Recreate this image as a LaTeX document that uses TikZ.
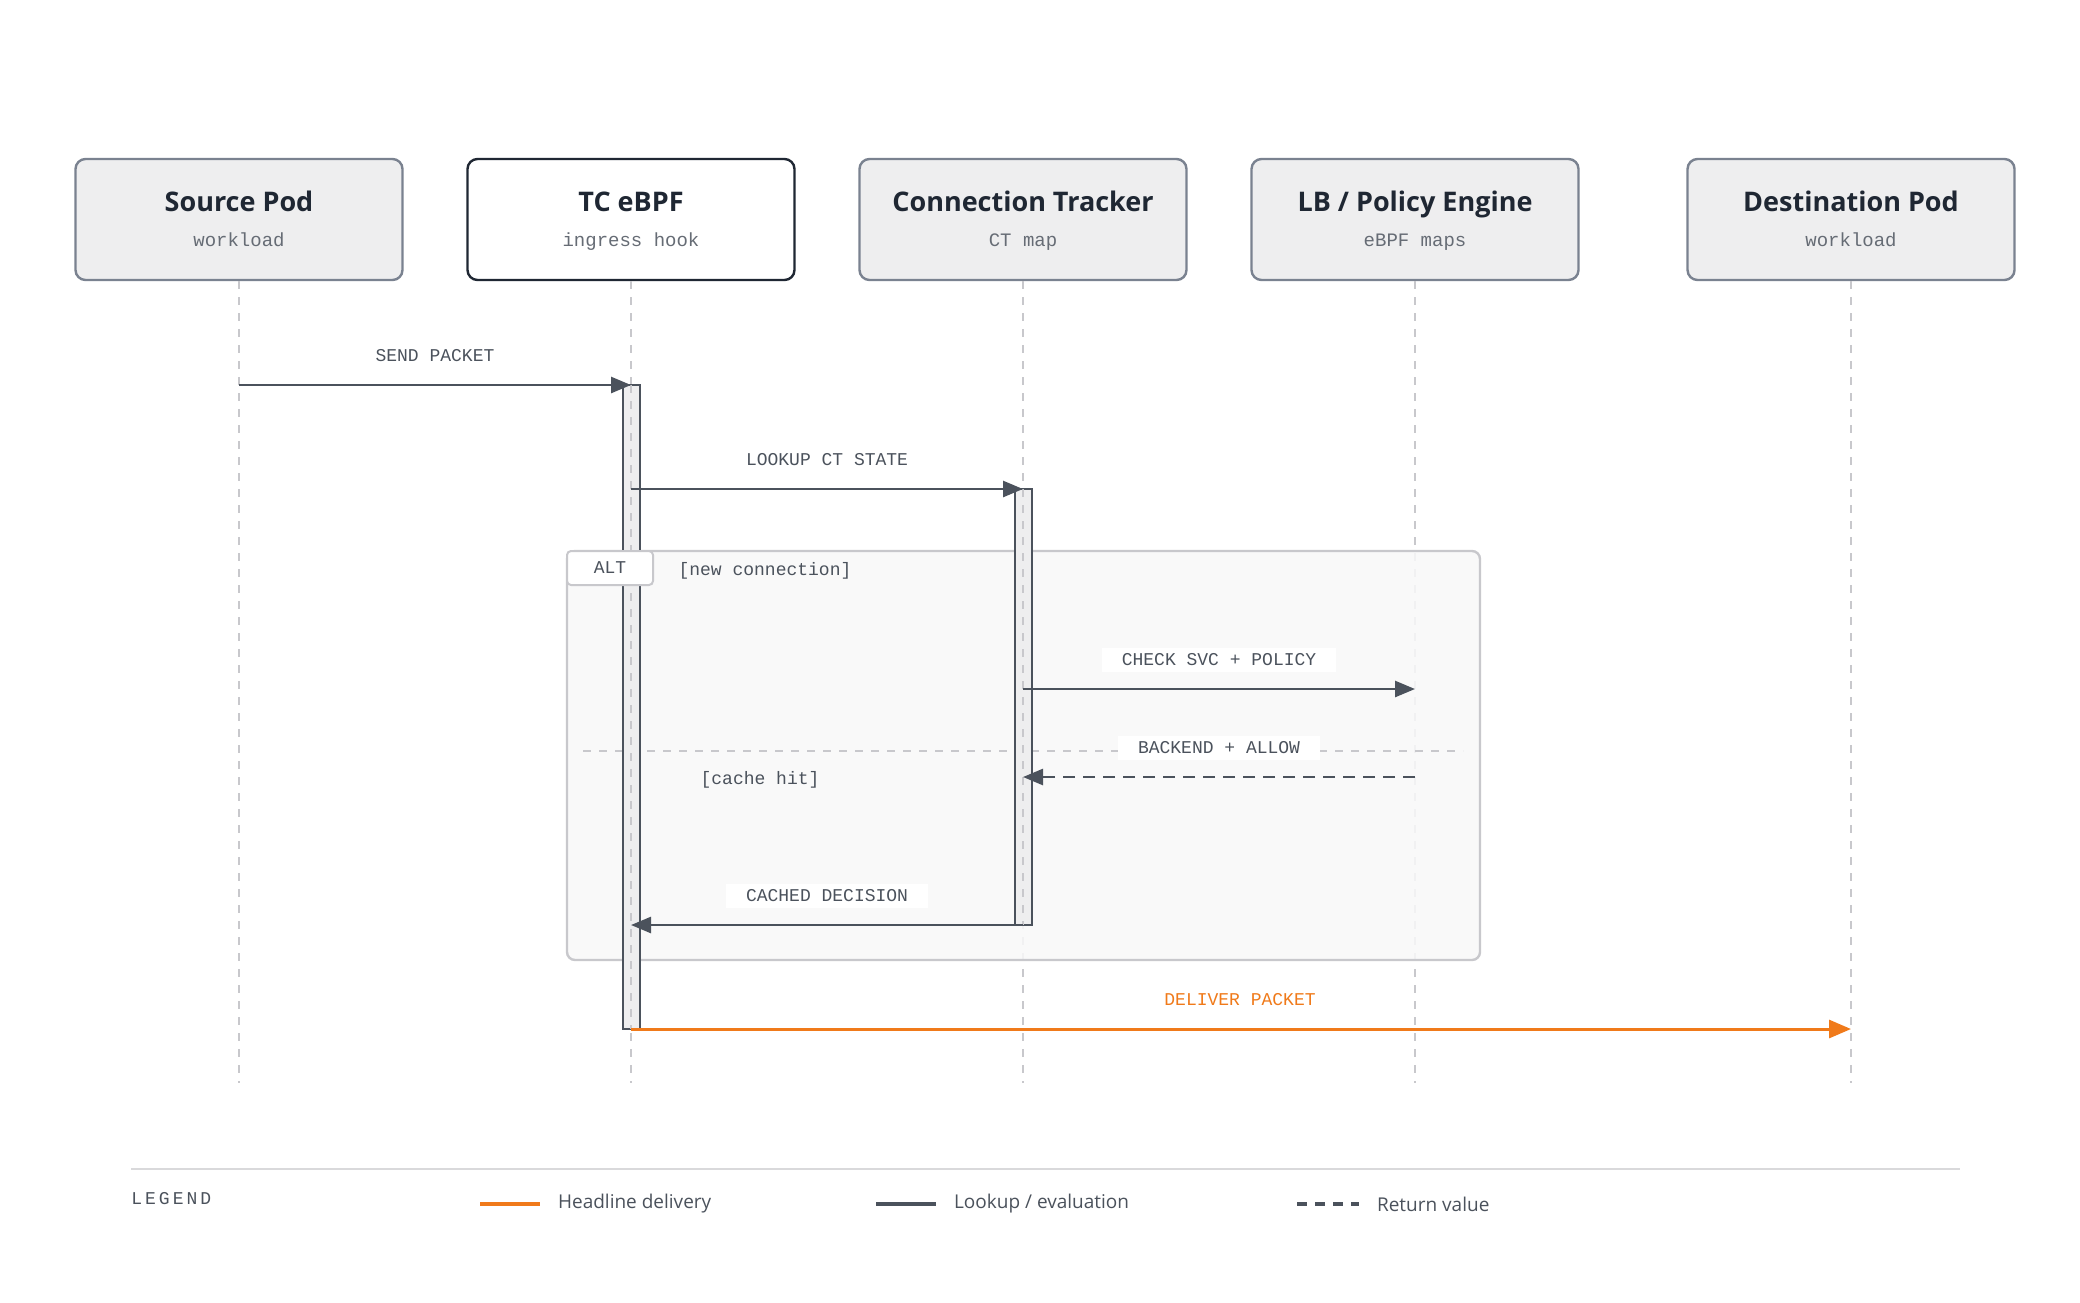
\documentclass[tikz,border=0pt]{standalone}
\usepackage{fontspec}
\setmainfont{Open Sans}
\newfontfamily\monof{Liberation Mono}
\usetikzlibrary{arrows.meta}
\definecolor{ink}{HTML}{1F2733}
\definecolor{edge}{HTML}{4B525C}
\definecolor{bord}{HTML}{7A8290}
\definecolor{boxf}{HTML}{EEEEEF}
\definecolor{life}{HTML}{C8C8CC}
\definecolor{org}{HTML}{F07A1A}
\definecolor{altf}{HTML}{F9F9F9}
\begin{document}
\begin{tikzpicture}[x=0.5pt,y=-0.5pt,
  part/.style={draw=bord,line width=1.2pt,fill=boxf,rounded corners=5pt,minimum width=163.5pt,minimum height=60.5pt,inner sep=0pt},
  title/.style={font=\fontsize{13.5}{15}\selectfont\bfseries,text=ink,anchor=base},
  sub/.style={font=\monof\fontsize{9.5}{11}\selectfont,text=edge!85,anchor=base},
  life/.style={draw=life,line width=0.8pt,dash pattern=on 4pt off 4pt},
  msg/.style={draw=edge,line width=1.3pt,-{Triangle[length=10pt,width=8pt]}},
  lbl/.style={font=\monof\fontsize{9}{11}\selectfont,text=edge},
  lblbg/.style={lbl,fill=white,inner xsep=10pt,inner ysep=3pt},
  act/.style={draw=edge,line width=0.9pt,fill=boxf}]
\useasboundingbox (0,0) rectangle (2080,1302);
\fill[white] (0,0) rectangle (2080,1302);
% participants
\foreach \n/\x/\t/\s in {src/239/{Source Pod}/workload,ct/1023/{Connection Tracker}/{CT map},lb/1415/{LB / Policy Engine}/{eBPF maps},dst/1851/{Destination Pod}/workload}{
  \node[part] (\n) at (\x,219.5) {};
  \node[title] (\n t) at (\x,211) {\t};
  \node[sub] (\n s) at (\x,246) {\s};
}
\node[part,fill=white,draw=ink] (tc) at (631,219.5) {};
\node[title] (tct) at (631,211) {TC eBPF};
\node[sub] (tcs) at (631,246) {ingress hook};
% lifelines
\foreach \n/\x in {src/239,tc/631,ct/1023,lb/1415,dst/1851}{
  \coordinate (\n e) at (\x,1083);
  \draw[life] (\n.south) -- (\n e);
}
% alt frame
\node[draw=life,line width=1.2pt,fill=altf,fill opacity=0.85,rounded corners=4pt,minimum width=456.5pt,minimum height=204.5pt,inner sep=0pt] (alt) at (1023.5,755.5) {};
\coordinate (sepL) at (583,751); \coordinate (sepR) at (1463,751);
\draw[life,line width=1pt] (sepL) -- (sepR);
% activations
\node[act,minimum width=8.5pt,minimum height=322pt,inner sep=0pt] (a1) at (631.5,707) {};
\draw[life] (631,385) -- (631,1029);
\node[act,minimum width=8.5pt,minimum height=218pt,inner sep=0pt] (a2) at (1023.5,707) {};
\draw[life] (1023,489) -- (1023,925);
\node[draw=life,line width=1pt,fill=white,rounded corners=2pt,minimum width=43pt,minimum height=17pt,inner sep=0pt,lbl] (altt) at (610,568) {ALT};
\node[lbl] (g1) at (765,571) {[new connection]};
\node[lbl] (g2) at (760,780) {[cache hit]};
% messages
\coordinate (m1s) at (239,385); \coordinate (m1e) at (631,385);
\draw[msg] (m1s) -- (m1e);
\node[lbl] (l1) at (435,356) {SEND PACKET};
\coordinate (m2s) at (631,489); \coordinate (m2e) at (1023,489);
\draw[msg] (m2s) -- (m2e);
\node[lbl] (l2) at (827,460) {LOOKUP CT STATE};
\coordinate (m3s) at (1023,689); \coordinate (m3e) at (1415,689);
\draw[msg] (m3s) -- (m3e);
\node[lblbg] (l3) at (1219,660) {CHECK SVC + POLICY};
\coordinate (m4s) at (1415,777); \coordinate (m4e) at (1023,777);
\draw[msg,dash pattern=on 6pt off 4pt] (m4s) -- (m4e);
\node[lblbg] (l4) at (1219,748) {BACKEND + ALLOW};
\coordinate (m5s) at (1023,925); \coordinate (m5e) at (631,925);
\draw[msg] (m5s) -- (m5e);
\node[lblbg] (l5) at (827,896) {CACHED DECISION};
\coordinate (m6s) at (631,1029); \coordinate (m6e) at (1851,1029);
\draw[msg,draw=org,fill=org,line width=1.5pt,-{Triangle[length=11pt,width=9pt]}] (m6s) -- (m6e);
\node[lbl,text=org] (l6) at (1240,1000) {DELIVER PACKET};
% legend
\coordinate (lg1) at (131,1169); \coordinate (lg2) at (1960,1169);
\draw[draw=life!70,line width=0.8pt] (lg1) -- (lg2);
\node[lbl,anchor=west,text=edge,inner sep=0pt] (lg) at (131,1199) {L\,E\,G\,E\,N\,D};
\coordinate (k1a) at (480,1204); \coordinate (k1b) at (540,1204);
\draw[org,line width=1.6pt] (k1a) -- (k1b);
\node[anchor=west,font=\fontsize{9.5}{11}\selectfont,text=edge] (k1) at (551,1204) {Headline delivery};
\coordinate (k2a) at (876,1204); \coordinate (k2b) at (936,1204);
\draw[edge,line width=1.6pt] (k2a) -- (k2b);
\node[anchor=west,font=\fontsize{9.5}{11}\selectfont,text=edge] (k2) at (947,1204) {Lookup / evaluation};
\coordinate (k3a) at (1297,1204); \coordinate (k3b) at (1359,1204);
\draw[edge,line width=1.6pt,dash pattern=on 5pt off 4pt] (k3a) -- (k3b);
\node[anchor=west,font=\fontsize{9.5}{11}\selectfont,text=edge] (k3) at (1370,1204) {Return value};
\end{tikzpicture}
\end{document}
